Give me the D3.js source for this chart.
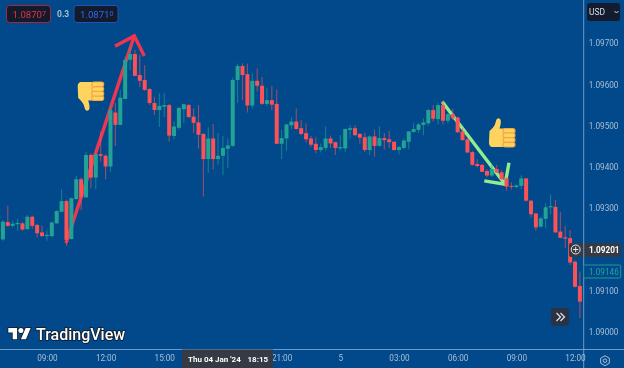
<!DOCTYPE html>
<html>
<head>
<meta charset="utf-8">
<title>EURUSD</title>
<script src="https://cdnjs.cloudflare.com/ajax/libs/d3/7.8.5/d3.min.js"></script>
<style>
  html, body { margin: 0; padding: 0; background: #01498b; overflow: hidden; }
  svg { display: block; font-family: Roboto, sans-serif; }
</style>
</head>
<body>
<script>
// prices in 1e-5 units, one 15 minute candle per entry, first one is 06:45
const opens = [109224,109266,109257,109261,109263,109249,109279,109259,109241,109232,109232,109263,109291,109317,109225,109322,109370,109326,109429,109374,109431,109427,109401,109532,109502,109565,109660,109674,109623,109611,109589,109555,109538,109546,109550,109475,109495,109540,109550,109522,109508,109480,109419,109469,109419,109427,109444,109451,109611,109645,109625,109549,109609,109597,109553,109562,109553,109456,109469,109501,109510,109494,109482,109469,109456,109441,109446,109469,109460,109445,109445,109490,109494,109480,109472,109441,109474,109451,109470,109467,109461,109441,109446,109461,109485,109490,109502,109506,109538,109516,109550,109512,109528,109520,109486,109467,109436,109407,109405,109390,109379,109395,109387,109372,109354,109351,109354,109372,109318,109287,109255,109274,109302,109303,109243,109229,109227,109170,109111];
const highs = [109271,109306,109269,109274,109266,109283,109282,109262,109257,109245,109268,109295,109346,109320,109326,109378,109375,109436,109433,109434,109486,109431,109555,109555,109587,109668,109696,109684,109672,109647,109592,109570,109579,109579,109553,109510,109546,109554,109553,109542,109550,109482,109496,109504,109482,109475,109469,109617,109651,109651,109651,109627,109639,109618,109592,109597,109588,109490,109504,109520,109542,109514,109506,109475,109472,109457,109498,109476,109461,109477,109493,109502,109502,109482,109483,109477,109490,109498,109482,109488,109463,109451,109469,109487,109506,109507,109518,109541,109550,109556,109562,109530,109542,109522,109494,109469,109439,109419,109407,109394,109405,109405,109393,109375,109363,109358,109380,109373,109320,109289,109279,109312,109333,109320,109291,109257,109247,109172,109146];
const lows = [109221,109255,109253,109245,109245,109247,109250,109229,109231,109221,109229,109262,109290,109208,109224,109320,109295,109325,109348,109346,109413,109370,109388,109451,109501,109564,109635,109620,109594,109584,109550,109526,109497,109521,109461,109467,109490,109507,109519,109482,109444,109328,109385,109393,109405,109380,109397,109449,109556,109562,109532,109542,109583,109550,109548,109538,109455,109419,109439,109491,109491,109477,109459,109448,109433,109435,109439,109446,109429,109441,109437,109469,109475,109456,109436,109429,109425,109449,109442,109446,109439,109431,109443,109443,109483,109483,109477,109500,109510,109503,109503,109506,109514,109483,109464,109434,109403,109399,109387,109375,109375,109385,109368,109342,109346,109349,109346,109316,109277,109245,109253,109251,109285,109240,109227,109203,109162,109107,109033];
const closes = [109267,109257,109262,109264,109248,109279,109257,109239,109232,109235,109265,109293,109317,109223,109324,109370,109326,109429,109374,109431,109427,109401,109538,109502,109568,109660,109674,109621,109609,109587,109555,109538,109548,109550,109476,109498,109543,109552,109521,109507,109478,109419,109469,109419,109427,109446,109452,109611,109645,109623,109549,109609,109597,109553,109562,109551,109456,109470,109503,109510,109492,109480,109467,109454,109441,109448,109469,109457,109446,109448,109492,109494,109477,109471,109441,109474,109451,109470,109465,109460,109441,109448,109464,109486,109492,109503,109508,109538,109517,109550,109512,109528,109518,109484,109465,109435,109405,109402,109388,109379,109395,109386,109370,109352,109352,109355,109372,109318,109285,109253,109275,109302,109305,109241,109228,109226,109168,109109,109073];

const priceTicks = [109000,109100,109200,109300,109400,109500,109600,109700];
const timeTicks = [9,21,33,57,69,81,93,105,117];
const timeLabels = ["09:00","12:00","15:00","21:00","5","03:00","06:00","09:00","12:00"];

// drawn trend arrows, [candle index, price]
const redArrow = [[12.9,109215],[26.87,109718]];
const redHead = [[22.92,109693],[26.87,109718],[28.92,109669]];
const greenArrow = [[89.85,109558],[102.7,109358]];
const greenHead = [[98.45,109366],[102.7,109358],[103.5,109410]];

const w = 624;
const h = 368;
const axisX = 583.7;
const axisY = 349.5;
const bodyW = 4;
const upColor = "#22a394";
const downColor = "#fb5157";
const labelColor = "#a9bfd6";
const axisColor = "#6f9ac6";
const darkBox = "#363a45";

const xScale = d3.scaleLinear().domain([0, opens.length - 1]).range([2.9, 579.9]);
const yScale = d3.scaleLinear().domain([109000, 109700]).range([331.7, 43.3]);

const svg = d3.select("body").append("svg")
  .attr("width", w)
  .attr("height", h)
  .style("filter", "blur(0.3px)");

svg.append("defs").append("clipPath").attr("id", "plot")
  .append("rect").attr("width", axisX).attr("height", axisY);

const line = d3.line().x(d => xScale(d[0])).y(d => yScale(d[1]));
const plot = svg.append("g").attr("clip-path", "url(#plot)");

// arrows sit under the candles
function arrow(points, color) {
  plot.append("path").attr("d", line(points))
    .attr("fill", "none").attr("stroke", color)
    .attr("stroke-width", 3.4).attr("stroke-linejoin", "miter");
}
arrow(redArrow, "#ef3550");
arrow(redHead, "#ef3550");
arrow(greenArrow, "#90ee8c");
arrow(greenHead, "#90ee8c");

const candles = opens.map((o, i) => ({ i, o, h: highs[i], l: lows[i], c: closes[i] }));
const candleColor = d => d.c >= d.o ? upColor : downColor;

plot.selectAll(".wick").data(candles).enter().append("line")
  .attr("class", "wick")
  .attr("x1", d => xScale(d.i)).attr("x2", d => xScale(d.i))
  .attr("y1", d => yScale(d.h)).attr("y2", d => yScale(d.l))
  .attr("stroke", candleColor)
  .attr("stroke-opacity", 0.6)
  .attr("stroke-width", 1.1);

plot.selectAll(".body").data(candles).enter().append("rect")
  .attr("class", "body")
  .attr("x", d => xScale(d.i) - bodyW / 2)
  .attr("y", d => yScale(Math.max(d.o, d.c)))
  .attr("width", bodyW)
  .attr("height", d => Math.max(1, Math.abs(yScale(d.o) - yScale(d.c))))
  .attr("fill", candleColor);

// thumbs, no emoji font here so they are shapes
function thumb(tx, ty, flip) {
  const g = svg.append("g").attr("transform", "translate(" + tx + "," + ty + ")" + (flip ? " scale(1,-1)" : ""));
  g.append("path")
    .attr("d", "M0.5,13 C3,11 6,8 7,3 C7.6,-0.7 11.5,-0.7 11.8,3 C12,6 11,9 10.5,10.5 L16,10.5 L16,29 L4,29 C1,29 0,27 0,24 Z")
    .attr("fill", "#ffd45e");
  [10.5, 15, 19.7, 24.4].forEach(fy => {
    g.append("rect").attr("x", 14).attr("y", fy).attr("width", 12).attr("height", 4.6).attr("rx", 2.2)
      .attr("fill", "#ffd45e").attr("stroke", "#f2a545").attr("stroke-width", 1.1);
  });
}
thumb(77.7, 111, true);
thumb(489, 118, false);

// axis lines
svg.append("line").attr("x1", 0).attr("x2", w).attr("y1", axisY).attr("y2", axisY)
  .attr("stroke", axisColor).attr("stroke-width", 1);
svg.append("line").attr("x1", axisX).attr("x2", axisX).attr("y1", 0).attr("y2", h)
  .attr("stroke", axisColor).attr("stroke-width", 1);

const yAxis = d3.axisRight(yScale)
  .tickValues(priceTicks)
  .tickFormat(d => (d / 1e5).toFixed(5))
  .tickSize(0).tickPadding(5);
const yG = svg.append("g").attr("transform", "translate(" + axisX + ",0)").call(yAxis);
yG.select(".domain").remove();
yG.selectAll("text").attr("fill", labelColor).style("font-size", "8.2px").style("font-family", "Roboto");

const xAxis = d3.axisBottom(xScale)
  .tickValues(timeTicks)
  .tickFormat((d, i) => timeLabels[i])
  .tickSize(0).tickPadding(5.5);
const xG = svg.append("g").attr("transform", "translate(0," + axisY + ")").call(xAxis);
xG.select(".domain").remove();
xG.selectAll("text").attr("fill", labelColor).style("font-size", "8.2px").style("font-family", "Roboto");

// crosshair labels
svg.append("rect").attr("x", 182).attr("y", axisY).attr("width", 91).attr("height", h - axisY).attr("fill", darkBox);
svg.append("text").attr("x", 188).attr("y", 362).attr("fill", "#fff")
  .style("font-size", "8px").style("font-weight", 700).text("Thu 04 Jan '24");
svg.append("text").attr("x", 247.5).attr("y", 362).attr("fill", "#fff")
  .style("font-size", "8px").style("font-weight", 700).text("18:15");

svg.append("rect").attr("x", 569).attr("y", 243).attr("width", 52).attr("height", 14).attr("rx", 2).attr("fill", darkBox);
svg.append("text").attr("x", 589).attr("y", 253).attr("fill", "#fff")
  .style("font-size", "8.2px").style("font-weight", 700).text("1.09201");
svg.append("line").attr("x1", axisX).attr("x2", axisX).attr("y1", 243).attr("y2", 257).attr("stroke", axisColor);
svg.append("circle").attr("cx", 575.7).attr("cy", 249.5).attr("r", 4.5)
  .attr("fill", "none").attr("stroke", "#e8e8e8").attr("stroke-width", 1);
svg.append("path").attr("d", "M573,249.5h5.4M575.7,246.8v5.4").attr("stroke", "#e8e8e8").attr("stroke-width", 1);

// last price tag
svg.append("rect").attr("x", axisX).attr("y", 265).attr("width", 37).attr("height", 13).attr("rx", 1)
  .attr("fill", "#01498b").attr("stroke", "#1f9c90");
svg.append("text").attr("x", 589).attr("y", 275).attr("fill", "#24a698")
  .style("font-size", "8.2px").text("1.09146");

// scroll button
svg.append("rect").attr("x", 551).attr("y", 308).attr("width", 18).attr("height", 18).attr("rx", 3).attr("fill", "#2a3244");
svg.append("path").attr("d", "M556.5,313l4,4l-4,4M560.5,313l4,4l-4,4")
  .attr("fill", "none").attr("stroke", "#e8e8e8").attr("stroke-width", 1.2);

// settings gear
svg.append("path").attr("d", d3.line()(d3.range(6).map(k => [605 + 5 * Math.sin(k * Math.PI / 3), 360.7 - 5 * Math.cos(k * Math.PI / 3)])) + "Z")
  .attr("fill", "none").attr("stroke", labelColor).attr("stroke-width", 1);
svg.append("circle").attr("cx", 605).attr("cy", 360.7).attr("r", 1.8)
  .attr("fill", "none").attr("stroke", labelColor).attr("stroke-width", 1);

// USD button
svg.append("rect").attr("x", 587).attr("y", 3).attr("width", 33).attr("height", 18).attr("rx", 3).attr("fill", "#131c2e");
svg.append("text").attr("x", 589).attr("y", 15).attr("fill", "#d8dde6").style("font-size", "8.5px").text("USD");
svg.append("path").attr("d", "M614.5,11l2,2l2,-2").attr("fill", "none").attr("stroke", "#d8dde6").attr("stroke-width", 1);

// bid / ask boxes
function priceBox(x, border, color, main, sup) {
  svg.append("rect").attr("x", x).attr("y", 5.5).attr("width", 44).attr("height", 17).attr("rx", 3)
    .attr("fill", "#131a2c").attr("stroke", border);
  const t = svg.append("text").attr("x", x + 6).attr("y", 18).attr("fill", color).style("font-size", "9.6px").text(main);
  t.append("tspan").attr("dy", -2.5).style("font-size", "7px").text(sup);
}
priceBox(6.5, "#a32a40", "#e8303f", "1.0870", "7");
priceBox(74, "#2450b8", "#3068ee", "1.0871", "0");
svg.append("text").attr("x", 57).attr("y", 17).attr("fill", "#a9bfd6")
  .style("font-size", "8.5px").style("font-weight", 700).text("0.3");

// watermark
const logo = svg.append("g").attr("transform", "translate(8.3,325.5) scale(0.63)")
  .attr("fill", "#fff").attr("stroke", "#131722").attr("stroke-width", 2.4).style("paint-order", "stroke");
logo.append("path").attr("d", "M14 22H7V11H0V4h14v18ZM28 22h-8l7.5-18h8L28 22Z");
logo.append("circle").attr("cx", 20).attr("cy", 8).attr("r", 4);
svg.append("text").attr("x", 36).attr("y", 339.5).attr("fill", "#fff")
  .attr("stroke", "#131722").attr("stroke-width", 1.6).style("paint-order", "stroke")
  .style("font-size", "16px").style("font-weight", 500).text("TradingView");
</script>
</body>
</html>
